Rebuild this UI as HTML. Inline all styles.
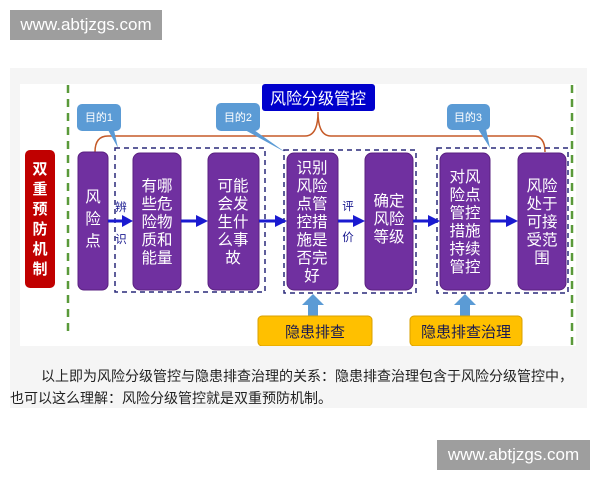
<!DOCTYPE html>
<html><head><meta charset="utf-8"><style>
html,body{margin:0;padding:0;width:600px;height:480px;background:#fff;overflow:hidden;font-family:"Liberation Sans","Noto Sans CJK SC",sans-serif;}
.wm{position:absolute;background:#9e9e9e;color:#fff;font-size:17px;line-height:30px;text-align:center;}
.txt{position:absolute;left:10px;font-size:14px;line-height:16px;color:#222;font-family:"Liberation Sans","Noto Sans CJK SC",sans-serif;white-space:nowrap;}
</style></head><body>
<div style="position:absolute;left:10px;top:68px;width:577px;height:340px;background:#f5f5f5"></div>
<div style="position:absolute;left:20px;top:84px;width:556px;height:262px;background:#fff"></div>
<svg width="600" height="480" style="position:absolute;left:0;top:0" font-family="Liberation Sans,Noto Sans CJK SC,sans-serif">
<g stroke="#5a9a3a" stroke-width="2.5" stroke-dasharray="8,6"><line x1="68" y1="85" x2="68" y2="335"/><line x1="572" y1="85" x2="572" y2="345"/></g>
<rect x="25" y="150" width="30" height="138" rx="5" fill="#c00000"/>
<text fill="#fff" font-size="15" font-weight="bold" text-anchor="middle">
<tspan x="40" y="174">双</tspan><tspan x="40" y="194">重</tspan><tspan x="40" y="214">预</tspan><tspan x="40" y="234">防</tspan><tspan x="40" y="254">机</tspan><tspan x="40" y="274">制</tspan></text>
<path d="M95 152 Q95 136 108 136 L305 136 Q318 136 318 112 Q318 136 331 136 L533 136 Q545 136 545 152" fill="none" stroke="#c55a28" stroke-width="1.5"/>
<rect x="262" y="84" width="113" height="27" rx="3" fill="#0000cc"/>
<text x="318" y="104" fill="#fff" font-size="16" text-anchor="middle">风险分级管控</text>
<g fill="#5b9bd5">
<rect x="77" y="104" width="44" height="27" rx="5"/><path d="M108 130 L118 148 L114 130Z"/>
<rect x="216" y="103" width="44" height="28" rx="5"/><path d="M245 130 L285 152 L254 130Z"/>
<rect x="447" y="104" width="43" height="26" rx="5"/><path d="M478 129 L490 148 L486 129Z"/>
</g>
<g fill="#fff" font-size="11" text-anchor="middle"><text x="99" y="121">目的1</text><text x="238" y="121">目的2</text><text x="468" y="121">目的3</text></g>
<g fill="none" stroke="#2a2a7a" stroke-width="1.5" stroke-dasharray="5,4">
<rect x="115" y="148" width="150" height="144"/><rect x="284" y="150" width="132" height="143"/><rect x="437" y="148" width="131" height="145"/></g>
<g fill="#7030a0" stroke="#5a2080" stroke-width="1">
<rect x="78" y="152" width="30" height="138" rx="6"/><rect x="133" y="153" width="48" height="137" rx="7"/><rect x="208" y="153" width="51" height="137" rx="7"/><rect x="287" y="153" width="51" height="137" rx="7"/><rect x="365" y="153" width="48" height="137" rx="7"/><rect x="440" y="153" width="50" height="137" rx="7"/><rect x="518" y="153" width="48" height="137" rx="7"/></g>
<g fill="#fff" font-size="15.5" text-anchor="middle">
<text><tspan x="93" y="202">风</tspan><tspan x="93" y="224">险</tspan><tspan x="93" y="246">点</tspan></text>
<text><tspan x="157" y="191">有哪</tspan><tspan x="157" y="209">些危</tspan><tspan x="157" y="227">险物</tspan><tspan x="157" y="245">质和</tspan><tspan x="157" y="263">能量</tspan></text>
<text><tspan x="233" y="191">可能</tspan><tspan x="233" y="209">会发</tspan><tspan x="233" y="227">生什</tspan><tspan x="233" y="245">么事</tspan><tspan x="233" y="263">故</tspan></text>
<text><tspan x="312" y="173">识别</tspan><tspan x="312" y="191">风险</tspan><tspan x="312" y="209">点管</tspan><tspan x="312" y="227">控措</tspan><tspan x="312" y="245">施是</tspan><tspan x="312" y="263">否完</tspan><tspan x="312" y="281">好</tspan></text>
<text><tspan x="389" y="206">确定</tspan><tspan x="389" y="224">风险</tspan><tspan x="389" y="242">等级</tspan></text>
<text><tspan x="465" y="182">对风</tspan><tspan x="465" y="200">险点</tspan><tspan x="465" y="218">管控</tspan><tspan x="465" y="236">措施</tspan><tspan x="465" y="254">持续</tspan><tspan x="465" y="272">管控</tspan></text>
<text><tspan x="542" y="191">风险</tspan><tspan x="542" y="209">处于</tspan><tspan x="542" y="227">可接</tspan><tspan x="542" y="245">受范</tspan><tspan x="542" y="263">围</tspan></text>
</g>
<g stroke="#1a1ad0" stroke-width="3"><line x1="108" y1="221" x2="124" y2="221"/><line x1="181" y1="221" x2="198" y2="221"/><line x1="259" y1="221" x2="276" y2="221"/><line x1="338" y1="221" x2="355" y2="221"/><line x1="413" y1="221" x2="430" y2="221"/><line x1="490" y1="221" x2="508" y2="221"/></g>
<g fill="#1a1ad0"><path d="M122 215 L133 221 L122 227Z"/><path d="M196 215 L208 221 L196 227Z"/><path d="M275 215 L287 221 L275 227Z"/><path d="M353 215 L365 221 L353 227Z"/><path d="M428 215 L440 221 L428 227Z"/><path d="M506 215 L518 221 L506 227Z"/></g>
<g fill="#1a1a90" font-size="11.5" text-anchor="middle"><text x="121" y="211">辨</text><text x="121" y="243">识</text><text x="348" y="210">评</text><text x="348" y="241">价</text></g>
<g fill="#5b9bd5"><path d="M313 294 L324 305 L318 305 L318 318 L308 318 L308 305 L302 305Z"/><path d="M465 294 L476 305 L470 305 L470 318 L460 318 L460 305 L454 305Z"/></g>
<rect x="258" y="316" width="114" height="30" rx="4" fill="#ffc000" stroke="#d9a000"/>
<rect x="410" y="316" width="112" height="30" rx="4" fill="#ffc000" stroke="#d9a000"/>
<g fill="#1a1a50" font-size="15" text-anchor="middle"><text x="315" y="337">隐患排查</text><text x="466" y="337">隐患排查治理</text></g>
<rect x="20" y="346" width="556" height="4" fill="#f5f5f5"/>
</svg>
<div class="txt" style="left:41px;top:368px">以上即为风险分级管控与隐患排查治理的关系：隐患排查治理包含于风险分级管控中，</div>
<div class="txt" style="top:390px">也可以这么理解：风险分级管控就是双重预防机制。</div>
<div class="wm" style="left:10px;top:10px;width:152px;">www.abtjzgs.com</div>
<div class="wm" style="left:437px;top:440px;width:153px;">www.abtjzgs.com</div>
</body></html>
